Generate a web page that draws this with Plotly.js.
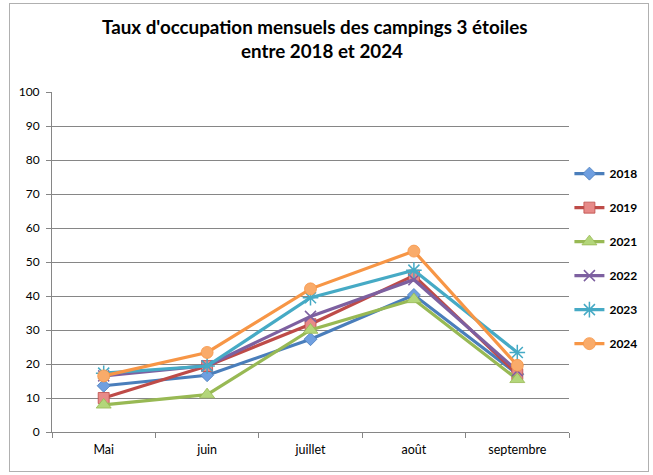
<!DOCTYPE html>
<html>
<head>
<meta charset="utf-8">
<script src="https://cdn.plot.ly/plotly-3.0.1.min.js"></script>
<style>
  html, body { margin: 0; padding: 0; background: #fff; }
  #chart { width: 653px; height: 475px; position: absolute; left: 0; top: 0; }
  #frame { position: absolute; left: 9px; top: 3px; width: 638px; height: 467px;
           border: 1px solid #b0b0b0; pointer-events: none; }
</style>
</head>
<body>
<div id="chart"></div>
<div id="frame"></div>
<script>
const months = ["Mai", "juin", "juillet", "août", "septembre"];
const years = ["2018", "2019", "2021", "2022", "2023", "2024"];
const v2018 = [13.6, 16.7, 27.3, 40.3, 17.0];
const v2019 = [10.0, 19.4, 31.7, 46.0, 17.0];
const v2021 = [8.0, 11.0, 30.0, 39.0, 15.5];
const v2022 = [16.5, 19.5, 34.0, 44.8, 18.0];
const v2023 = [17.3, 19.4, 39.5, 47.6, 23.4];
const v2024 = [16.5, 23.4, 42.1, 53.2, 19.6];
const yTicks = [0, 10, 20, 30, 40, 50, 60, 70, 80, 90, 100];
const titleLine1 = "Taux d'occupation mensuels des campings 3 étoiles";
const titleLine2 = "entre 2018 et 2024";

const series = [v2018, v2019, v2021, v2022, v2023, v2024];
const lineColors = ["#4a7ebb", "#be4b48", "#98b954", "#7d60a0", "#46aac5", "#f79646"];
const fillColors = ["#6f9fe0", "#e78a88", "#b3d67a", "#7d60a0", "#46aac5", "#f9ab6a"];
const symbols = ["diamond", "square", "triangle-up", "x-thin-open", "asterisk-open", "circle"];
const sizes = [10, 11, 13, 11, 13, 12];

const traces = series.map((vals, i) => ({
  type: "scatter",
  mode: "lines+markers",
  name: years[i],
  legendgroup: "g" + i,
  x: months,
  y: vals,
  line: { color: lineColors[i], width: 3.2 },
  marker: {
    symbol: symbols[i],
    size: sizes[i],
    color: fillColors[i],
    line: { color: lineColors[i], width: (i === 3 || i === 4) ? 1.5 : 0.8 }
  }
}));

const titleFont = { family: "Lato, sans-serif", size: 18.8, color: "#000", weight: "bold" };

const layout = {
  width: 653,
  height: 475,
  margin: { l: 52, r: 84, t: 92, b: 43, autoexpand: false },
  paper_bgcolor: "#ffffff",
  plot_bgcolor: "#ffffff",
  font: { family: "Lato, 'Open Sans', sans-serif", color: "#000" },
  annotations: [
    { text: titleLine1, xref: "paper", yref: "paper", x: 0.507, y: 1.194,
      xanchor: "center", yanchor: "middle", showarrow: false, font: titleFont },
    { text: titleLine2, xref: "paper", yref: "paper", x: 0.522, y: 1.123,
      xanchor: "center", yanchor: "middle", showarrow: false, font: titleFont }
  ],
  showlegend: true,
  legend: {
    xref: "container", yref: "container",
    x: 0.872, xanchor: "left",
    y: 0.665, yanchor: "top",
    font: { family: "Lato, sans-serif", size: 12, color: "#000", weight: "bold" },
    tracegroupgap: 15,
    itemwidth: 30,
    bgcolor: "rgba(0,0,0,0)"
  },
  xaxis: {
    type: "category",
    range: [-0.5, 4.5],
    tickson: "boundaries",
    ticks: "outside",
    ticklen: 5,
    tickcolor: "#868686",
    showline: true,
    linecolor: "#868686",
    linewidth: 1,
    showgrid: false,
    automargin: false,
    ticklabelstandoff: 6,
    tickfont: { family: "Lato, sans-serif", size: 12.5, color: "#000" },
    fixedrange: true
  },
  yaxis: {
    range: [0, 100],
    tickvals: yTicks,
    ticktext: yTicks.map(String),
    ticks: "outside",
    ticklen: 5,
    tickcolor: "#868686",
    showline: true,
    linecolor: "#868686",
    showgrid: true,
    gridcolor: "#868686",
    gridwidth: 1,
    zeroline: false,
    automargin: false,
    ticklabelstandoff: 4,
    tickfont: { family: "Lato, sans-serif", size: 12, color: "#000" },
    fixedrange: true
  }
};

Plotly.newPlot("chart", traces, layout, { displayModeBar: false, staticPlot: true });
</script>
</body>
</html>
